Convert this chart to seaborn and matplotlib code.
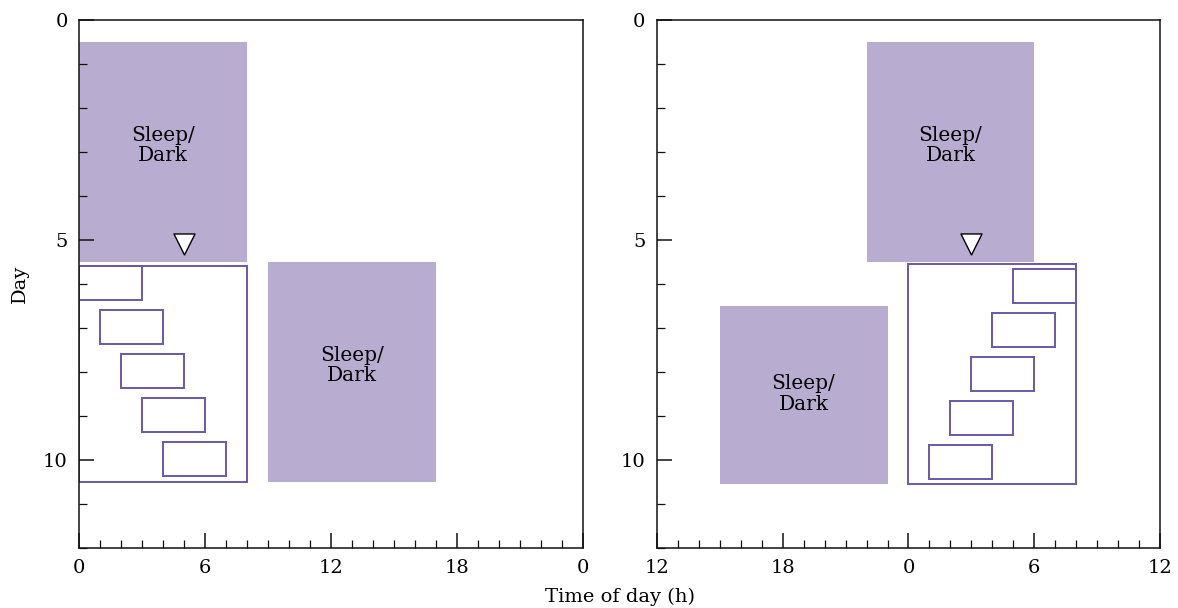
import matplotlib
matplotlib.use("Agg")
import matplotlib.pyplot as plt
import seaborn as sns
import pandas as pd
from matplotlib.ticker import MultipleLocator, FixedLocator, FixedFormatter

# ---- panel A (clock hours 0..24) ----
a_sleep_x0 = [0, 9]
a_sleep_x1 = [8, 17]
a_sleep_y0 = [0.5, 5.5]
a_sleep_y1 = [5.5, 10.5]
a_label_x = [4, 13]
a_label_y = [2.85, 7.85]
a_box_x = [0, 8]
a_box_y = [5.6, 10.5]
a_bout_x0 = [0, 1, 2, 3, 4]
a_bout_x1 = [3, 4, 5, 6, 7]
a_bout_y0 = [5.6, 6.6, 7.6, 8.6, 9.6]
a_bout_y1 = [6.37, 7.37, 8.37, 9.37, 10.37]
a_mark_x = [5]
a_mark_y = [5.1]
a_ticks = [0, 6, 12, 18, 24]
a_ticklabels = ["0", "6", "12", "18", "0"]

# ---- panel B (hours relative to midnight, -12..12) ----
b_sleep_x0 = [-2, -9]
b_sleep_x1 = [6, -1]
b_sleep_y0 = [0.5, 6.5]
b_sleep_y1 = [5.5, 10.55]
b_label_x = [2, -5]
b_label_y = [2.85, 8.5]
b_box_x = [0, 8]
b_box_y = [5.55, 10.55]
b_bout_x0 = [5, 4, 3, 2, 1]
b_bout_x1 = [8, 7, 6, 5, 4]
b_bout_y0 = [5.67, 6.67, 7.67, 8.67, 9.67]
b_bout_y1 = [6.43, 7.43, 8.43, 9.43, 10.43]
b_mark_x = [3]
b_mark_y = [5.1]
b_ticks = [-12, -6, 0, 6, 12]
b_ticklabels = ["12", "18", "0", "6", "12"]

fill_col = "#B8ADD1"
line_col = "#6A58A8"

sns.set_theme(style="ticks")
plt.rcParams["font.family"] = ["DejaVu Serif"]
plt.rcParams["axes.linewidth"] = 1.1
plt.rcParams["axes.edgecolor"] = "#111111"
plt.rcParams["text.color"] = "black"
plt.rcParams["axes.labelcolor"] = "black"
plt.rcParams["xtick.labelcolor"] = "black"
plt.rcParams["ytick.labelcolor"] = "black"

fig, axes = plt.subplots(1, 2, figsize=(11.78, 6.08), dpi=100)
fig.subplots_adjust(left=0.067, right=0.985, top=0.967, bottom=0.099, wspace=0.147)


def draw_panel(ax, sx0, sx1, sy0, sy1, lx, ly, boxx, boxy, bx0, bx1, by0, by1,
               mx, my, ticks, ticklabels):
    sleep = pd.DataFrame({"x0": sx0, "x1": sx1, "y0": sy0, "y1": sy1})
    ax.bar(sleep["x0"], sleep["y1"] - sleep["y0"], width=sleep["x1"] - sleep["x0"],
           bottom=sleep["y0"], align="edge", color=fill_col, linewidth=0, zorder=1)
    for x, y in zip(lx, ly):
        ax.text(x, y, "Sleep/\nDark", ha="center", va="center", fontsize=14.5,
                linespacing=1.1, zorder=5)
    ax.bar([boxx[0]], [boxy[1] - boxy[0]], width=[boxx[1] - boxx[0]], bottom=[boxy[0]],
           align="edge", facecolor="white", edgecolor=line_col, linewidth=1.4, zorder=2)
    bouts = pd.DataFrame({"x0": bx0, "x1": bx1, "y0": by0, "y1": by1})
    ax.bar(bouts["x0"], bouts["y1"] - bouts["y0"], width=bouts["x1"] - bouts["x0"],
           bottom=bouts["y0"], align="edge", facecolor="none", edgecolor=line_col,
           linewidth=1.4, zorder=3)
    sns.scatterplot(x=mx, y=my, marker="v", s=230, color="white", edgecolor="black",
                    linewidth=1.0, ax=ax, zorder=6)

    ax.set_xlim(ticks[0], ticks[-1])
    ax.set_ylim(12, 0)
    ax.xaxis.set_major_locator(FixedLocator(ticks))
    ax.xaxis.set_major_formatter(FixedFormatter(ticklabels))
    ax.xaxis.set_minor_locator(MultipleLocator(1))
    ax.yaxis.set_major_locator(FixedLocator([0, 5, 10]))
    ax.yaxis.set_minor_locator(MultipleLocator(1))
    ax.tick_params(which="both", direction="in", top=False, right=False,
                   labelsize=14, color="#111111")
    ax.tick_params(which="major", length=11, width=1.1, pad=8)
    ax.tick_params(which="minor", length=5.5, width=0.9)
    ax.xaxis.set_zorder(10)
    ax.yaxis.set_zorder(10)
    for sp in ax.spines.values():
        sp.set_visible(True)
        sp.set_zorder(10)


draw_panel(axes[0], a_sleep_x0, a_sleep_x1, a_sleep_y0, a_sleep_y1, a_label_x, a_label_y,
           a_box_x, a_box_y, a_bout_x0, a_bout_x1, a_bout_y0, a_bout_y1,
           a_mark_x, a_mark_y, a_ticks, a_ticklabels)
draw_panel(axes[1], b_sleep_x0, b_sleep_x1, b_sleep_y0, b_sleep_y1, b_label_x, b_label_y,
           b_box_x, b_box_y, b_bout_x0, b_bout_x1, b_bout_y0, b_bout_y1,
           b_mark_x, b_mark_y, b_ticks, b_ticklabels)

axes[0].set_ylabel("Day", fontsize=14, labelpad=10)
axes[1].set_ylabel("")
fig.text(0.526, 0.004, "Time of day (h)", ha="center", va="bottom", fontsize=14)

fig.savefig("out.png", dpi=100)
